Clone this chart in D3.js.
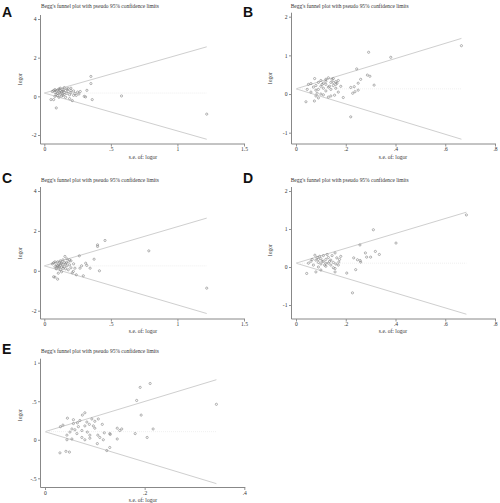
<!DOCTYPE html>
<html><head><meta charset="utf-8">
<script src="https://cdn.jsdelivr.net/npm/d3@7"></script>
<style>html,body{margin:0;padding:0;background:#fff;}svg{display:block;}</style>
</head><body>
<svg id="c" width="500" height="503"></svg>
<script>
// ---------- DATA ----------
const panelLetters = ["A","B","C","D","E"];
const titleText = "Begg's funnel plot with pseudo 95% confidence limits";
const xLabelText = "s.e. of: logor";
const yLabelText = "logor";

const xTicksA = [0,0.5,1,1.5], xTickLabelsA = ["0",".5","1","1.5"];
const yTicksA = [-2,0,2,4],    yTickLabelsA = ["-2","0","2","4"];
const xTicksB = [0,0.2,0.4,0.6,0.8], xTickLabelsB = ["0",".2",".4",".6",".8"];
const yTicksB = [-1,0,1,2],    yTickLabelsB = ["-1","0","1","2"];
const xTicksE = [0,0.2,0.4],   xTickLabelsE = ["0",".2",".4"];
const yTicksE = [-0.5,0,0.5,1], yTickLabelsE = ["-.5","0",".5","1"];

// pooled estimate (theta) and largest s.e. per panel
const thetaValues = [0.17, 0.135, 0.25, 0.10, 0.105];
const maxSE = [1.22, 0.665, 1.22, 0.685, 0.344];

// [s.e., logor]
const pointsA = [[0.06,0.25],[0.07,0.30],[0.08,0.20],[0.08,0.35],[0.09,0.10],[0.09,0.28],[0.10,0.15],[0.10,0.32],[0.10,0.05],[0.11,0.22],[0.11,0.38],[0.12,0.30],[0.12,0.12],[0.12,0.42],[0.13,0.25],[0.13,0.18],[0.13,0.02],[0.14,0.35],[0.14,0.28],[0.15,0.45],[0.15,0.10],[0.15,0.20],[0.16,0.30],[0.16,-0.05],[0.17,0.38],[0.17,0.15],[0.18,0.25],[0.18,0.40],[0.19,0.08],[0.19,-0.12],[0.20,0.30],[0.20,0.18],[0.21,-0.22],[0.22,0.05],[0.22,0.28],[0.23,0.15],[0.24,0.05],[0.25,0.22],[0.26,0.12],[0.27,0.25],[0.30,0.00],[0.31,-0.03],[0.32,0.31],[0.35,1.03],[0.35,0.66],[0.36,-0.17],[0.58,0.02],[1.22,-0.92],[0.05,-0.17],[0.07,-0.17],[0.09,-0.60],[0.08,0.00],[0.11,-0.05],[0.14,0.05],[0.20,0.42]];
const pointsB = [[0.04,-0.20],[0.045,0.12],[0.05,0.25],[0.06,0.27],[0.06,0.05],[0.07,0.18],[0.074,-0.18],[0.075,0.40],[0.08,0.22],[0.08,-0.05],[0.085,0.02],[0.09,0.30],[0.09,0.12],[0.10,0.00],[0.10,0.20],[0.10,0.35],[0.11,0.15],[0.11,0.28],[0.12,0.08],[0.12,0.38],[0.12,0.25],[0.13,0.18],[0.13,0.42],[0.14,0.30],[0.14,0.12],[0.14,-0.05],[0.15,0.40],[0.15,0.22],[0.15,0.30],[0.155,-0.03],[0.16,0.32],[0.16,0.15],[0.16,0.25],[0.17,0.35],[0.17,0.05],[0.18,0.20],[0.11,-0.02],[0.13,-0.08],[0.19,-0.09],[0.22,0.17],[0.22,-0.59],[0.228,0.02],[0.234,0.19],[0.237,0.06],[0.244,0.65],[0.25,0.10],[0.25,0.28],[0.26,0.38],[0.287,0.49],[0.292,1.08],[0.297,0.46],[0.314,0.23],[0.381,0.95],[0.665,1.25],[0.08,0.10],[0.09,-0.10],[0.105,0.25],[0.12,0.33],[0.135,0.20],[0.145,0.38],[0.165,0.28]];
const pointsC = [[0.06,0.35],[0.07,0.40],[0.07,-0.30],[0.08,-0.32],[0.08,0.20],[0.09,0.30],[0.09,0.10],[0.10,0.45],[0.10,0.25],[0.10,-0.42],[0.105,-0.12],[0.11,0.15],[0.11,0.35],[0.12,0.50],[0.12,0.05],[0.12,0.28],[0.13,0.40],[0.13,0.18],[0.13,-0.05],[0.14,0.30],[0.14,0.55],[0.15,0.20],[0.15,0.42],[0.155,0.72],[0.16,0.10],[0.16,0.35],[0.17,0.60],[0.17,0.25],[0.18,0.45],[0.18,0.05],[0.19,0.30],[0.20,0.15],[0.20,0.50],[0.21,-0.10],[0.218,-0.03],[0.22,0.35],[0.23,0.13],[0.24,-0.20],[0.263,0.75],[0.268,0.13],[0.28,0.25],[0.293,-0.25],[0.311,0.38],[0.319,0.27],[0.344,0.13],[0.374,0.58],[0.40,1.22],[0.40,1.30],[0.414,0.0],[0.456,1.52],[0.785,1.0],[1.22,-0.87],[0.08,0.45],[0.11,0.22],[0.14,0.12],[0.165,0.40],[0.19,0.55],[0.125,0.38],[0.095,0.18]];
const pointsD = [[0.043,-0.17],[0.05,0.10],[0.06,0.15],[0.065,0.20],[0.07,0.05],[0.076,0.31],[0.08,-0.13],[0.08,0.18],[0.085,0.25],[0.09,0.00],[0.09,0.12],[0.10,0.22],[0.10,-0.08],[0.10,0.08],[0.11,0.30],[0.11,0.15],[0.12,0.02],[0.12,0.20],[0.125,0.33],[0.13,0.10],[0.13,0.25],[0.14,0.05],[0.14,0.18],[0.145,0.30],[0.15,-0.02],[0.15,0.12],[0.157,0.37],[0.157,-0.04],[0.157,-0.13],[0.164,0.24],[0.17,0.05],[0.172,0.13],[0.175,0.20],[0.18,0.28],[0.204,-0.16],[0.232,0.24],[0.24,-0.07],[0.247,0.19],[0.257,0.58],[0.258,0.17],[0.26,0.13],[0.279,0.37],[0.284,0.26],[0.30,0.26],[0.311,0.98],[0.319,0.41],[0.335,0.33],[0.402,0.63],[0.227,-0.68],[0.685,1.37],[0.095,0.28],[0.105,0.15],[0.115,0.05],[0.135,0.15],[0.16,0.08],[0.12,0.10],[0.09,0.20]];
const pointsE = [[0.03,-0.17],[0.031,0.17],[0.036,0.19],[0.042,-0.15],[0.044,0.0],[0.044,0.06],[0.045,0.28],[0.049,-0.16],[0.05,0.10],[0.054,0.01],[0.054,0.14],[0.057,0.26],[0.057,0.21],[0.06,0.13],[0.064,0.08],[0.067,0.17],[0.07,0.25],[0.074,0.03],[0.074,0.12],[0.075,0.32],[0.08,0.35],[0.08,0.0],[0.08,0.18],[0.084,0.23],[0.089,0.20],[0.09,0.06],[0.09,0.02],[0.094,0.27],[0.097,0.18],[0.10,0.24],[0.105,-0.05],[0.106,0.06],[0.107,0.27],[0.11,0.03],[0.117,0.0],[0.124,-0.14],[0.13,-0.10],[0.13,0.08],[0.131,0.07],[0.145,0.15],[0.145,0.01],[0.15,0.12],[0.154,0.14],[0.181,0.08],[0.184,0.51],[0.191,0.68],[0.193,0.32],[0.205,0.03],[0.211,0.73],[0.217,0.14],[0.344,0.46],[0.119,0.09],[0.065,0.22],[0.085,0.10],[0.10,0.15],[0.115,0.20]];

// ---------- LAYOUT (positions only) ----------
const layout = [
  {letter:[2,16.5], title:[41,8],  xr:[44.3,244],  yr:[135,19],    axX:40.5,  axY:144,  xlab:[143,158.5], ylab:[22,79]},
  {letter:[243,16.5], title:[290.7,8], xr:[296,495], yr:[132.7,16.7], axX:291.5, axY:144, xlab:[393,158.5], ylab:[272,78]},
  {letter:[2,182.5], title:[41,182], xr:[44.3,244], yr:[310.7,191], axX:40.5, axY:319, xlab:[143,333], ylab:[22,253]},
  {letter:[243,183], title:[290.7,182], xr:[296,495], yr:[305,191], axX:291.5, axY:319, xlab:[393,333], ylab:[272,250]},
  {letter:[2,354], title:[41,352.5], xr:[45,244.3], yr:[478.3,362.7], axX:40.5, axY:487.5, xlab:[143,501.5], ylab:[22,415]}
];

const panelData = [
  {pts:pointsA, xt:xTicksA, xl:xTickLabelsA, yt:yTicksA, yl:yTickLabelsA},
  {pts:pointsB, xt:xTicksB, xl:xTickLabelsB, yt:yTicksB, yl:yTickLabelsB},
  {pts:pointsC, xt:xTicksA, xl:xTickLabelsA, yt:yTicksA, yl:yTickLabelsA},
  {pts:pointsD, xt:xTicksB, xl:xTickLabelsB, yt:yTicksB, yl:yTickLabelsB},
  {pts:pointsE, xt:xTicksE, xl:xTickLabelsE, yt:yTicksE, yl:yTickLabelsE}
];

const svg = d3.select("#c");
const serif = "'Liberation Serif','DejaVu Serif',serif";

panelData.forEach((pd, i) => {
  const L = layout[i];
  const g = svg.append("g");
  const x = d3.scaleLinear().domain([pd.xt[0], pd.xt[pd.xt.length-1]]).range(L.xr);
  const y = d3.scaleLinear().domain([pd.yt[0], pd.yt[pd.yt.length-1]]).range(L.yr);

  g.append("text").attr("x", L.letter[0]).attr("y", L.letter[1])
    .attr("font-family","'Liberation Sans',Arial,sans-serif").attr("font-weight","bold")
    .attr("font-size",14).attr("fill","#111").text(panelLetters[i]);
  g.append("text").attr("x", L.title[0]).attr("y", L.title[1])
    .attr("font-family", serif).attr("font-size",5.6).attr("fill","#333")
    .attr("textLength",118).attr("lengthAdjust","spacingAndGlyphs").text(titleText);

  const th = thetaValues[i], m = maxSE[i];
  const line = d3.line().x(d=>x(d[0])).y(d=>y(d[1]));
  g.append("path").attr("d", line([[0,th],[m,th+1.96*m]])).attr("fill","none").attr("stroke","#cfcfcf").attr("stroke-width",1);
  g.append("path").attr("d", line([[0,th],[m,th-1.96*m]])).attr("fill","none").attr("stroke","#cfcfcf").attr("stroke-width",1);
  g.append("path").attr("d", line([[0,th],[m,th]])).attr("fill","none").attr("stroke","#ececec").attr("stroke-width",0.8).attr("stroke-dasharray","1,1");

  const yAxis = d3.axisLeft(y).tickValues(pd.yt).tickFormat((d,k)=>pd.yl[k]).tickSize(2.5).tickSizeOuter(0).tickPadding(1.5);
  const ya = g.append("g").attr("transform",`translate(${L.axX},0)`).call(yAxis);
  const xAxis = d3.axisBottom(x).tickValues(pd.xt).tickFormat((d,k)=>pd.xl[k]).tickSize(2.5).tickSizeOuter(0).tickPadding(1);
  const xa = g.append("g").attr("transform",`translate(0,${L.axY})`).call(xAxis);
  [ya, xa].forEach(a => {
    a.select(".domain").remove();
    a.selectAll("line").attr("stroke","#777").attr("stroke-width",0.8);
    a.selectAll("text").attr("font-family",serif).attr("font-size",5.6).attr("fill","#333");
  });
  g.append("line").attr("x1",L.axX).attr("x2",L.axX).attr("y1",L.yr[1]-4).attr("y2",L.axY)
    .attr("stroke","#888").attr("stroke-width",1);
  g.append("line").attr("x1",L.axX).attr("x2",L.xr[1]+1).attr("y1",L.axY).attr("y2",L.axY)
    .attr("stroke","#888").attr("stroke-width",1);

  g.append("text").attr("x",L.xlab[0]).attr("y",L.xlab[1]).attr("text-anchor","middle")
    .attr("font-family",serif).attr("font-size",5.6).attr("fill","#333").text(xLabelText);
  g.append("text").attr("transform",`translate(${L.ylab[0]},${L.ylab[1]}) rotate(-90)`).attr("text-anchor","middle")
    .attr("font-family",serif).attr("font-size",5.6).attr("fill","#333").text(yLabelText);

  g.append("g").selectAll("circle").data(pd.pts).join("circle")
    .attr("cx",d=>x(d[0])).attr("cy",d=>y(d[1])).attr("r",1.1)
    .attr("fill","none").attr("stroke","#777").attr("stroke-width",0.55);
});
</script>
</body></html>
